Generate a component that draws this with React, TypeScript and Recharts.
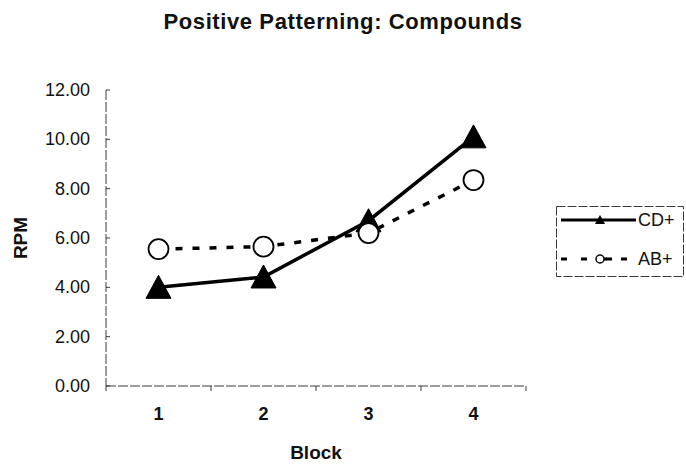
import React from 'react';
import { LineChart, Line, XAxis, YAxis, Legend, Label } from 'recharts';

const blocks = [1, 2, 3, 4];
const cdPlus = [4.0, 4.42, 6.7, 10.1];
const abPlus = [5.55, 5.65, 6.2, 8.35];
const yTicks = [0, 2, 4, 6, 8, 10, 12];
const xTicks = [0.5, 1, 1.5, 2, 2.5, 3, 3.5, 4, 4.5];
const seriesNames = { cd: 'CD+', ab: 'AB+' };
const legendOrder = ['cd', 'ab'];
const title = 'Positive Patterning: Compounds';
const xTitle = 'Block';
const yTitle = 'RPM';

const data = blocks.map((b, i) => ({ block: b, cd: cdPlus[i], ab: abPlus[i] }));

const FONT = "Arial, 'Liberation Sans', sans-serif";
const AXIS_STROKE = '#3a3a3a';

const TriangleDot = (props: any) => {
  const { cx, cy, index } = props;
  if (cx == null || cy == null) return <g key={`t-${index}`} />;
  const w = 12.5;
  return (
    <polygon
      key={`t-${index}`}
      points={`${cx},${cy - 12} ${cx - w},${cy + 11} ${cx + w},${cy + 11}`}
      fill="#000"
      stroke="#000"
      strokeWidth={1}
    />
  );
};

const CircleDot = (props: any) => {
  const { cx, cy, index } = props;
  if (cx == null || cy == null) return <g key={`c-${index}`} />;
  return <circle key={`c-${index}`} cx={cx} cy={cy} r={10} fill="#fff" stroke="#000" strokeWidth={1.8} />;
};

const YTick = (props: any) => {
  const { x, y, payload } = props;
  return (
    <g>
      <line x1={x + 16} x2={x + 20} y1={y} y2={y} stroke={AXIS_STROKE} strokeWidth={1} />
      <text x={x} y={y} textAnchor="end" dominantBaseline="central" fontFamily={FONT} fontSize={18} fill="#111">
        {Number(payload.value).toFixed(2)}
      </text>
    </g>
  );
};

const XTick = (props: any) => {
  const { x, y, payload } = props;
  const v = Number(payload.value);
  if (Math.abs(v - Math.round(v)) > 0.01) {
    return <line x1={x} x2={x} y1={y} y2={y + 5} stroke={AXIS_STROKE} strokeWidth={1} />;
  }
  return (
    <text x={x} y={y + 28} textAnchor="middle" dominantBaseline="central" fontFamily={FONT} fontSize={18} fontWeight="bold" fill="#111">
      {v}
    </text>
  );
};

const LegendContent = (props: any) => {
  const { payload } = props;
  const items = [...((payload || []) as any[])].sort(
    (a, b) => legendOrder.indexOf(a.dataKey) - legendOrder.indexOf(b.dataKey)
  );
  return (
    <svg width={128} height={71} style={{ display: 'block' }}>
      <rect x={0.5} y={0.5} width={127} height={70} fill="#fff" stroke={AXIS_STROKE} strokeWidth={1} strokeDasharray="9 2" />
      {items.map((it, i) => {
        const cy = 14 + i * 39;
        const isCd = it.dataKey === 'cd';
        return (
          <g key={`lg-${i}`}>
            {isCd ? (
              <>
                <line x1={5} x2={80} y1={cy} y2={cy} stroke="#000" strokeWidth={3} />
                <polygon points={`44,${cy - 5} 39,${cy + 4} 49,${cy + 4}`} fill="#000" />
              </>
            ) : (
              <>
                <line x1={5} x2={80} y1={cy} y2={cy} stroke="#000" strokeWidth={3} strokeDasharray="6 14" />
                <line x1={50} x2={56} y1={cy} y2={cy} stroke="#000" strokeWidth={3} />
                <circle cx={44} cy={cy} r={4} fill="#fff" stroke="#000" strokeWidth={1.5} />
              </>
            )}
            <text x={82} y={cy} dominantBaseline="central" fontFamily={FONT} fontSize={18} fill="#111">
              {it.value}
            </text>
          </g>
        );
      })}
    </svg>
  );
};

const YAxisTitle = (props: any) => {
  const vb = props.viewBox || {};
  const x = vb.x + 20;
  const y = vb.y + vb.height / 2;
  return (
    <text x={x} y={y} transform={`rotate(-90, ${x}, ${y})`} textAnchor="middle" dominantBaseline="central" fontFamily={FONT} fontSize={19} fontWeight="bold" fill="#111">
      {yTitle}
    </text>
  );
};

const XAxisTitle = (props: any) => {
  const vb = props.viewBox || {};
  const x = vb.x + vb.width / 2;
  const y = vb.y + 66;
  return (
    <text x={x} y={y} textAnchor="middle" dominantBaseline="central" fontFamily={FONT} fontSize={19} fontWeight="bold" fill="#111">
      {xTitle}
    </text>
  );
};

export default function App() {
  return (
    <div style={{ position: 'absolute', left: 0, top: 0, width: 686, height: 468, background: '#fff' }}>
      <div
        style={{
          position: 'absolute',
          left: 0,
          top: 9,
          width: 686,
          textAlign: 'center',
          fontFamily: FONT,
          fontSize: 22,
          lineHeight: '26px',
          fontWeight: 'bold',
          letterSpacing: 0.6,
          color: '#111',
          zIndex: 2,
        }}
      >
        {title}
      </div>
      <LineChart width={686} height={468} data={data} margin={{ top: 90, right: 160, bottom: 0, left: 0 }}>
        <XAxis
          dataKey="block"
          type="number"
          domain={[0.5, 4.5]}
          ticks={xTicks}
          interval={0}
          tickSize={0}
          tickMargin={0}
          tickLine={false}
          tick={<XTick />}
          height={82}
          axisLine={{ stroke: AXIS_STROKE, strokeWidth: 1, strokeDasharray: '10 2' }}
        >
          <Label content={<XAxisTitle />} />
        </XAxis>
        <YAxis
          type="number"
          domain={[0, 12]}
          ticks={yTicks}
          interval={0}
          width={106}
          tickSize={0}
          tickMargin={16}
          tickLine={false}
          tick={<YTick />}
          axisLine={{ stroke: AXIS_STROKE, strokeWidth: 1, strokeDasharray: '10 2' }}
        >
          <Label content={<YAxisTitle />} />
        </YAxis>
        <Legend
          layout="horizontal"
          verticalAlign="middle"
          align="center"
          content={<LegendContent />}
          wrapperStyle={{ position: 'absolute', left: 556, top: 206, width: 128, height: 71 }}
        />
        <Line
          dataKey="cd"
          name={seriesNames.cd}
          stroke="#000"
          strokeWidth={3.5}
          dot={TriangleDot}
          activeDot={false}
          isAnimationActive={false}
        />
        <Line
          dataKey="ab"
          name={seriesNames.ab}
          stroke="#000"
          strokeWidth={3.5}
          strokeDasharray="7 10"
          dot={CircleDot}
          activeDot={false}
          isAnimationActive={false}
        />
      </LineChart>
    </div>
  );
}
